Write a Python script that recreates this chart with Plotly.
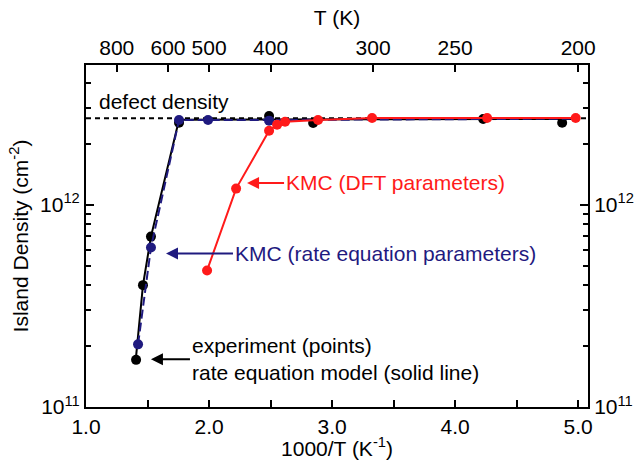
import plotly.graph_objects as go
import math

# ---- data ----
exp_x = [1.407, 1.463, 1.528, 1.756, 2.488, 2.846, 4.228, 4.87]
exp_y = [1.71e11, 4.0e11, 6.95e11, 2.54e12, 2.74e12, 2.53e12, 2.65e12, 2.54e12]

model_x = [1.407, 1.463, 1.528, 1.756, 5.0]
model_y = [1.78e11, 4.0e11, 6.95e11, 2.63e12, 2.65e12]

kmc_rate_x = [1.423, 1.528, 1.756, 1.992, 2.488]
kmc_rate_y = [2.04e11, 6.14e11, 2.62e12, 2.62e12, 2.6e12]
kmc_rate_line_x = [1.423, 1.528, 1.756, 1.992, 2.488, 5.0]
kmc_rate_line_y = [2.04e11, 6.14e11, 2.62e12, 2.62e12, 2.62e12, 2.66e12]

kmc_dft_x = [1.984, 2.22, 2.488, 2.553, 2.618, 2.886, 3.325, 4.26, 4.98]
kmc_dft_y = [4.73e11, 1.2e12, 2.32e12, 2.48e12, 2.57e12, 2.62e12, 2.68e12, 2.68e12, 2.68e12]

defect_density = 2.67e12

top_T = [800, 600, 500, 400, 300, 250, 200]
bottom_ticks = [1.0, 2.0, 3.0, 4.0, 5.0]
bottom_labels = ["1.0", "2.0", "3.0", "4.0", "5.0"]
bottom_minor = [1.5, 2.5, 3.5, 4.5]
y_major = [1e11, 1e12]
y_major_labels = ["10<sup>11</sup>", "10<sup>12</sup>"]
y_minor = [2e11, 3e11, 4e11, 5e11, 6e11, 7e11, 8e11, 9e11, 2e12, 3e12, 4e12, 5e12]

RED = "#ff1a1a"
NAVY = "#1f1a7f"
FONT = "Liberation Sans, Arial, Helvetica, sans-serif"
FS = 21

x_range = [1.0, 5.08]
y_range = [11.0, 12.69]

fig = go.Figure()

# defect density dashed line
fig.add_trace(go.Scatter(x=[x_range[0], x_range[1]], y=[defect_density, defect_density],
                         mode="lines", line=dict(color="black", width=2, dash="5px,4px"),
                         showlegend=False, hoverinfo="skip"))
# rate equation model (solid black)
fig.add_trace(go.Scatter(x=model_x, y=model_y, mode="lines",
                         line=dict(color="black", width=2), showlegend=False))
# experiment points
fig.add_trace(go.Scatter(x=exp_x, y=exp_y, mode="markers",
                         marker=dict(color="black", size=10), showlegend=False))
# KMC rate equation params (navy dashed)
fig.add_trace(go.Scatter(x=kmc_rate_line_x, y=kmc_rate_line_y, mode="lines",
                         line=dict(color=NAVY, width=2, dash="9px,4px"), showlegend=False))
fig.add_trace(go.Scatter(x=kmc_rate_x, y=kmc_rate_y, mode="markers",
                         marker=dict(color=NAVY, size=10), showlegend=False))
# KMC DFT params (red)
fig.add_trace(go.Scatter(x=kmc_dft_x, y=kmc_dft_y, mode="lines+markers",
                         line=dict(color=RED, width=2),
                         marker=dict(color=RED, size=10), showlegend=False))
# invisible trace for top/right axes
fig.add_trace(go.Scatter(x=x_range, y=[1e11, 1e11], xaxis="x2", yaxis="y2",
                         mode="markers", marker=dict(opacity=0), showlegend=False,
                         hoverinfo="skip"))

axis_common = dict(showline=True, linecolor="black", linewidth=2, ticks="inside",
                   tickcolor="black", tickwidth=2, showgrid=False, zeroline=False,
                   automargin=False,
                   tickfont=dict(family=FONT, size=FS, color="black"))

minor_x = dict(tickmode="array", tickvals=bottom_minor, ticks="inside", ticklen=7,
               tickwidth=2, tickcolor="black", showgrid=False)
minor_y = dict(tickmode="array", tickvals=y_minor, ticks="inside", ticklen=5,
               tickwidth=2, tickcolor="black", showgrid=False)

fig.update_layout(
    width=638, height=460,
    margin=dict(l=86, r=50, t=65, b=53),
    paper_bgcolor="white", plot_bgcolor="white",
    font=dict(family=FONT, size=FS, color="black"),
    xaxis=dict(range=x_range, tickmode="array", tickvals=bottom_ticks, ticktext=bottom_labels,
               ticklen=7, minor=minor_x,
               title=dict(text="1000/T (K<sup>-1</sup>)", standoff=2,
                          font=dict(family=FONT, size=FS)),
               **axis_common),
    xaxis2=dict(range=x_range, overlaying="x", side="top", tickmode="array",
                tickvals=[1000.0 / t for t in top_T], ticktext=[str(t) for t in top_T],
                ticklen=7, title=dict(text="T (K)", standoff=4, font=dict(family=FONT, size=FS)),
                **axis_common),
    yaxis=dict(type="log", range=y_range, tickmode="array", tickvals=y_major,
               ticktext=y_major_labels, ticklen=8, minor=minor_y,
               title=dict(text="Island Density (cm<sup>-2</sup>)", standoff=6,
                          font=dict(family=FONT, size=FS)),
               **axis_common),
    yaxis2=dict(type="log", range=y_range, overlaying="y", side="right", tickmode="array",
                tickvals=y_major, ticktext=y_major_labels, ticklen=8, minor=minor_y,
                **axis_common),
)

def ly(v):
    return math.log10(v)

annotations = [
    dict(x=1.089, y=ly(3.25e12), text="defect density", showarrow=False,
         xanchor="left", yanchor="middle", font=dict(color="black", size=FS)),
    # labelled arrows: (x, y) is the arrow tip, the text sits at the tail
    dict(x=2.309, y=ly(1.28e12), text="KMC (DFT parameters)", showarrow=True,
         ax=37, ay=0, xanchor="left", yanchor="middle",
         arrowcolor=RED, arrowwidth=2, arrowhead=2, arrowsize=1.2,
         font=dict(color=RED, size=FS)),
    dict(x=1.650, y=ly(5.74e11), text="KMC (rate equation parameters)", showarrow=True,
         ax=67, ay=0, xanchor="left", yanchor="middle",
         arrowcolor=NAVY, arrowwidth=2, arrowhead=2, arrowsize=1.2,
         font=dict(color=NAVY, size=FS)),
    dict(x=1.528, y=ly(1.72e11), text="experiment (points)<br>rate equation model (solid line)",
         showarrow=True, ax=39, ay=0, xanchor="left", yanchor="middle", align="left",
         arrowcolor="black", arrowwidth=2, arrowhead=2, arrowsize=1.2,
         font=dict(color="black", size=FS)),
]
for a in annotations:
    a["xref"] = "x"
    a["yref"] = "y"
    a["font"]["family"] = FONT
fig.update_layout(annotations=annotations)

fig.write_html("out.html")
